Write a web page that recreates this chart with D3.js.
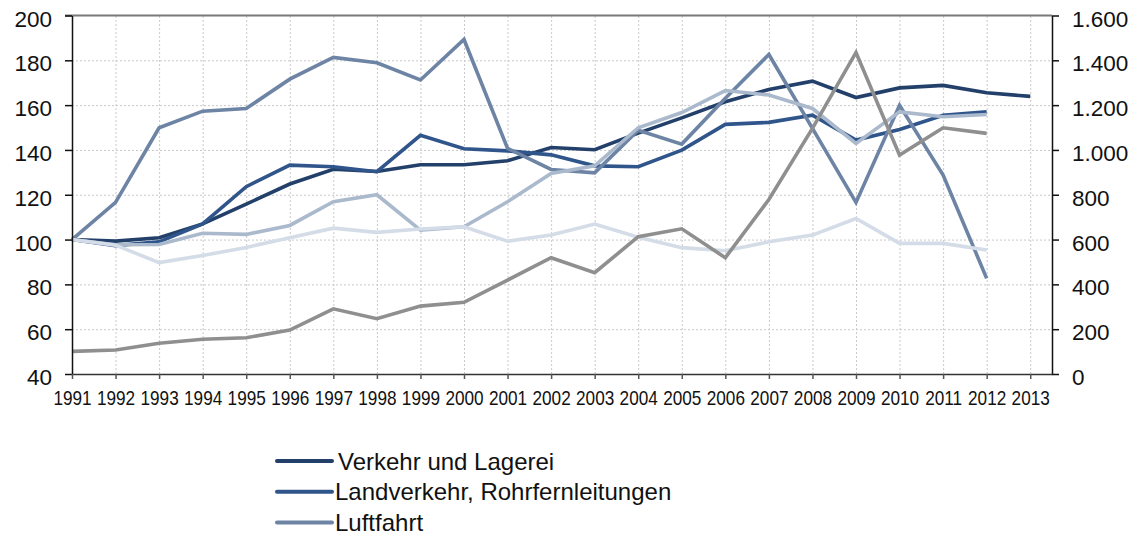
<!DOCTYPE html>
<html>
<head>
<meta charset="utf-8">
<script src="https://cdn.jsdelivr.net/npm/d3@7"></script>
<style>
  body { margin: 0; background: #fff; }
  svg { font-family: "Liberation Sans", Arial, sans-serif; }
</style>
</head>
<body>
<div id="container"></div>
<script>
/* CONSTANTS AND GLOBALS */
const width = 1136,
  height = 535;

const margin = { left: 72, right: 84, top: 15.5, bottom: 161 };

/* DATA */
const years = d3.range(1991, 2014);

const verkehr = [100, 99.3, 100.8, 107, 115.8, 124.8, 131.4, 130.4, 133.4, 133.4, 135.2, 141.1, 140.1, 147.5, 154.3, 161.5, 167, 170.7, 163.4, 167.7, 168.8, 165.5, 163.9];
const landverkehr = [100, 97.3, 99, 107, 123.6, 133.2, 132.5, 130.3, 146.5, 140.5, 139.6, 137.8, 132.9, 132.5, 139.9, 151.4, 152.3, 155.5, 144.4, 149.1, 155.5, 157];
const luftfahrt = [100, 116.6, 149.9, 157.3, 158.5, 171.6, 181.3, 178.9, 171.2, 189.3, 140.7, 131.3, 129.8, 148.8, 142.6, 163.1, 182.6, 149.6, 116.6, 159.9, 128.8, 82.7];
const serie4 = [100, 97.7, 97.8, 102.8, 102.3, 106.3, 116.9, 120, 104.2, 105.7, 116.9, 129.5, 132.9, 149.9, 156.7, 166.5, 164.5, 158.5, 142.9, 157, 154.8, 155.8];
const serie5 = [100, 97.5, 89.7, 92.9, 96.5, 100.8, 105.1, 103.2, 104.7, 105.7, 99.3, 102, 106.9, 101, 96.4, 95, 99, 102, 109.4, 98.3, 98.3, 95.3];
// right axis series
const serie6 = [101, 107, 137, 155, 162, 196, 291, 247, 303, 320, 419, 519, 452, 613, 648, 519, 779, 1096, 1435, 977, 1099, 1074];

const leftTicks = [40, 60, 80, 100, 120, 140, 160, 180, 200];
const rightTicks = [0, 200, 400, 600, 800, 1000, 1200, 1400, 1600];

const legendNames = ["Verkehr und Lagerei", "Landverkehr, Rohrfernleitungen", "Luftfahrt"];

const series = [
  { values: verkehr, axis: "left", color: "#23406a" },
  { values: landverkehr, axis: "left", color: "#30558b" },
  { values: luftfahrt, axis: "left", color: "#6e84a5" },
  { values: serie4, axis: "left", color: "#abb9cd" },
  { values: serie5, axis: "left", color: "#d4dce8" },
  { values: serie6, axis: "right", color: "#8f8f8f" }
];

/* SCALES */
const x0 = margin.left,
  x1 = width - margin.right,
  y0 = height - margin.bottom,
  y1 = margin.top;

const xScale = d3.scaleLinear().domain([1991, 2013.5]).range([x0, x1]);
const yLeft = d3.scaleLinear().domain([40, 200]).range([y0, y1]);
const yRight = d3.scaleLinear().domain([0, 1600]).range([y0, y1]);

const fmtRight = v => d3.format(",")(v).replace(/,/g, ".");

const svg = d3.select("#container")
  .append("svg")
  .attr("width", width)
  .attr("height", height);

// grid
svg.append("g")
  .attr("transform", `translate(0, ${y0})`)
  .call(d3.axisBottom(xScale).tickValues(years.slice(1)).tickSize(-(y0 - y1)).tickFormat(""))
  .call(g => g.select(".domain").remove())
  .call(g => g.selectAll("line").attr("stroke", "#c9c9c9").attr("stroke-dasharray", "2,2"));

svg.append("g")
  .attr("transform", `translate(${x0}, 0)`)
  .call(d3.axisLeft(yLeft).tickValues(leftTicks.slice(1, -1)).tickSize(-(x1 - x0)).tickFormat(""))
  .call(g => g.select(".domain").remove())
  .call(g => g.selectAll("line").attr("stroke", "#c9c9c9").attr("stroke-dasharray", "2,2"));

// top border
svg.append("line")
  .attr("x1", x0 - 7).attr("x2", x1)
  .attr("y1", y1).attr("y2", y1)
  .attr("stroke", "#7a7a7a").attr("stroke-width", 2);

// lines
const line = d3.line().x((d, i) => xScale(years[i]));

svg.append("g")
  .selectAll("path")
  .data(series)
  .join("path")
  .attr("fill", "none")
  .attr("stroke", d => d.color)
  .attr("stroke-width", 3.6)
  .attr("stroke-linejoin", "miter")
  .attr("d", d => line.y(v => d.axis === "left" ? yLeft(v) : yRight(v))(d.values));

// axes
svg.append("g")
  .attr("transform", `translate(${x0}, 0)`)
  .call(d3.axisLeft(yLeft).tickValues(leftTicks).tickSize(7).tickPadding(13).tickSizeOuter(0))
  .call(g => g.select(".domain").attr("stroke", "#111").attr("stroke-width", 1.5))
  .call(g => g.selectAll("line").attr("stroke", "#111").attr("stroke-width", 1.5))
  .call(g => g.selectAll("text").attr("font-size", 22.5).attr("fill", "#111").attr("dy", "0.47em"));

svg.append("g")
  .attr("transform", `translate(${x1}, 0)`)
  .call(d3.axisRight(yRight).tickValues(rightTicks).tickFormat(fmtRight).tickSize(7).tickPadding(13).tickSizeOuter(0))
  .call(g => g.select(".domain").attr("stroke", "#111").attr("stroke-width", 1.5))
  .call(g => g.selectAll("line").attr("stroke", "#111").attr("stroke-width", 1.5))
  .call(g => g.selectAll("text").attr("font-size", 22.5).attr("fill", "#111").attr("dy", "0.47em"));

svg.append("g")
  .attr("transform", `translate(0, ${y0})`)
  .call(d3.axisBottom(xScale).tickValues(years).tickFormat(d3.format("d")).tickSize(5).tickPadding(12).tickSizeOuter(0))
  .call(g => g.select(".domain").attr("stroke", "#333").attr("stroke-width", 1.5))
  .call(g => g.selectAll("line").attr("stroke", "#555").attr("stroke-width", 1.5))
  .call(g => g.selectAll("text").attr("font-size", 20).attr("fill", "#111").attr("transform", "scale(0.86,1)"));

// legend
const legend = svg.append("g")
  .selectAll("g")
  .data(legendNames)
  .join("g")
  .attr("transform", (d, i) => `translate(277, ${461 + i * 30.7})`);

legend.append("line")
  .attr("x1", 0).attr("x2", 55)
  .attr("stroke", (d, i) => series[i].color)
  .attr("stroke-width", 4)
  .attr("stroke-linecap", "round");

legend.append("text")
  .attr("x", (d, i) => i === 0 ? 61 : 58)
  .attr("dy", "0.36em")
  .attr("font-size", 24)
  .attr("fill", "#111")
  .text(d => d);
</script>
</body>
</html>
